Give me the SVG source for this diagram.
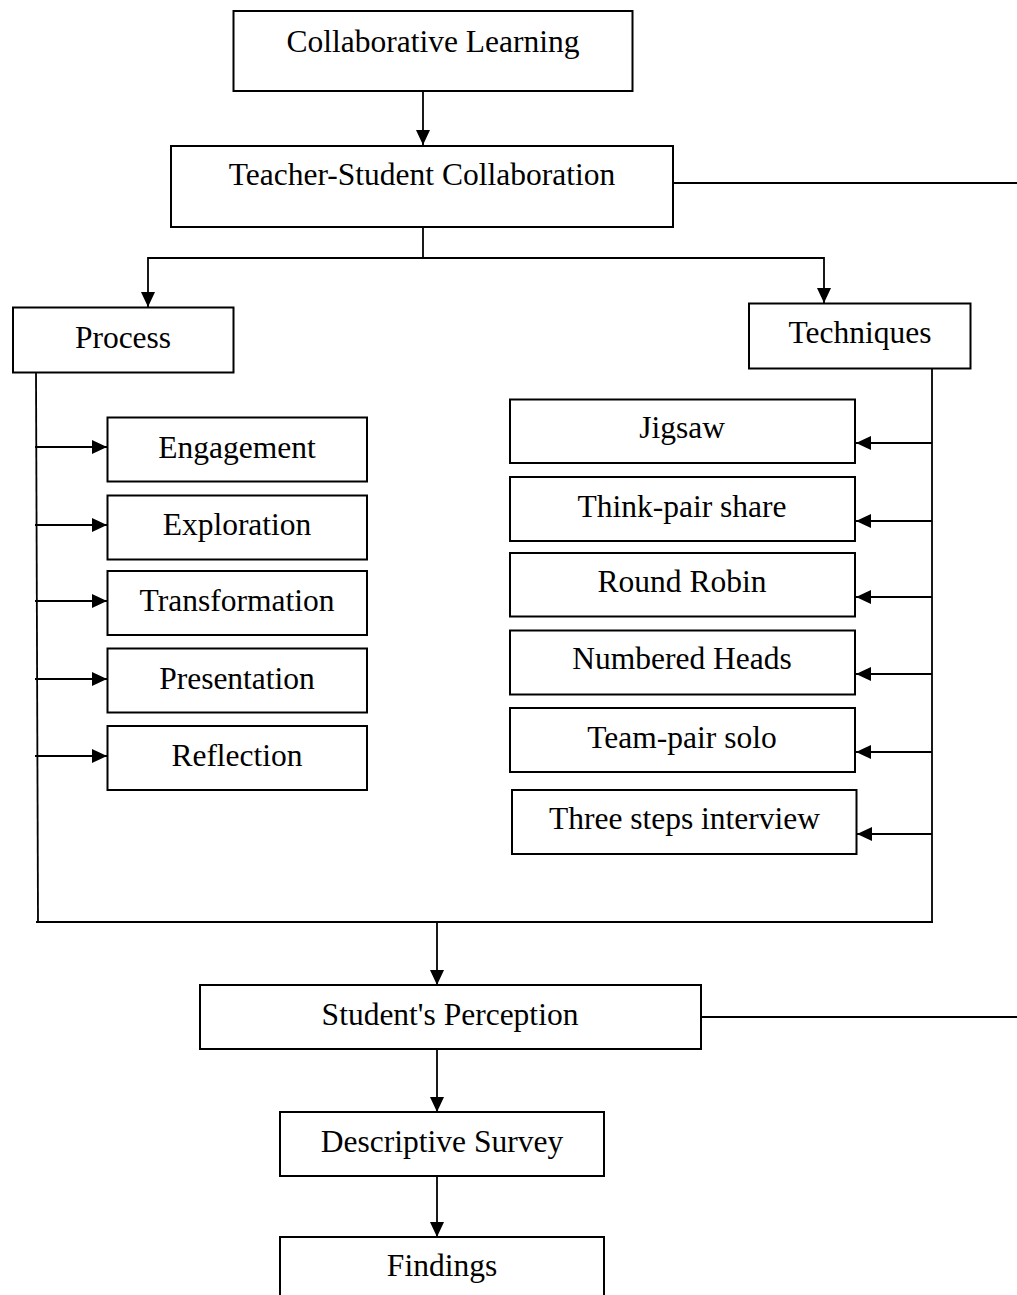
<svg xmlns="http://www.w3.org/2000/svg" width="1017" height="1295" viewBox="0 0 1017 1295">
<style>
.box{fill:#fff;stroke:#000;stroke-width:2}
.ln{fill:none;stroke:#000;stroke-width:1.8}
.t{font-family:"Liberation Serif","Times New Roman",serif;font-size:31.5px;fill:#000;text-anchor:middle}
</style>
<defs>
<marker id="ah" markerUnits="userSpaceOnUse" markerWidth="15" markerHeight="14" refX="15" refY="7" orient="auto">
<path d="M0,0 L15,7 L0,14 z" fill="#000"/>
</marker>
</defs>
<rect width="1017" height="1295" fill="#fff"/>
<g id="connectors">
<line class="ln" x1="423" y1="91" x2="423" y2="145" marker-end="url(#ah)"/>
<line class="ln" x1="673" y1="183" x2="1017" y2="183"/>
<polyline class="ln" points="423,227 423,258"/>
<line class="ln" x1="148" y1="258" x2="824" y2="258"/>
<line class="ln" x1="148" y1="257" x2="148" y2="307" marker-end="url(#ah)"/>
<line class="ln" x1="824" y1="257" x2="824" y2="303" marker-end="url(#ah)"/>
<line class="ln" x1="36" y1="372" x2="38" y2="922"/>
<line class="ln" x1="36" y1="922" x2="933" y2="922"/>
<line class="ln" x1="932" y1="368" x2="932" y2="922"/>
<line class="ln" x1="35" y1="447" x2="107" y2="447" marker-end="url(#ah)"/>
<line class="ln" x1="35" y1="525" x2="107" y2="525" marker-end="url(#ah)"/>
<line class="ln" x1="35" y1="601" x2="107" y2="601" marker-end="url(#ah)"/>
<line class="ln" x1="35" y1="679" x2="107" y2="679" marker-end="url(#ah)"/>
<line class="ln" x1="35" y1="756" x2="107" y2="756" marker-end="url(#ah)"/>
<line class="ln" x1="932" y1="443" x2="856" y2="443" marker-end="url(#ah)"/>
<line class="ln" x1="932" y1="521" x2="856" y2="521" marker-end="url(#ah)"/>
<line class="ln" x1="932" y1="597" x2="856" y2="597" marker-end="url(#ah)"/>
<line class="ln" x1="932" y1="674" x2="856" y2="674" marker-end="url(#ah)"/>
<line class="ln" x1="932" y1="752" x2="856" y2="752" marker-end="url(#ah)"/>
<line class="ln" x1="932" y1="834" x2="857" y2="834" marker-end="url(#ah)"/>
<line class="ln" x1="437" y1="922" x2="437" y2="985" marker-end="url(#ah)"/>
<line class="ln" x1="696" y1="1017" x2="1017" y2="1017"/>
<line class="ln" x1="437" y1="1049" x2="437" y2="1112" marker-end="url(#ah)"/>
<line class="ln" x1="437" y1="1173" x2="437" y2="1237" marker-end="url(#ah)"/>
</g>
<g id="n-collab"><rect class="box" x="233.5" y="11" width="399" height="80"/><text class="t" x="433" y="52">Collaborative Learning</text></g>
<g id="n-teacher"><rect class="box" x="171" y="146" width="502" height="81"/><text class="t" x="422" y="185">Teacher-Student Collaboration</text></g>
<g id="n-process"><rect class="box" x="13" y="307.5" width="220.5" height="65"/><text class="t" x="123" y="347.5">Process</text></g>
<g id="n-techniques"><rect class="box" x="749" y="303.5" width="221.5" height="65"/><text class="t" x="860" y="342.5">Techniques</text></g>
<g id="n-engagement"><rect class="box" x="107.5" y="417.5" width="259.5" height="64"/><text class="t" x="237" y="458">Engagement</text></g>
<g id="n-exploration"><rect class="box" x="107.5" y="495.5" width="259.5" height="64"/><text class="t" x="237" y="535">Exploration</text></g>
<g id="n-transformation"><rect class="box" x="107.5" y="571" width="259.5" height="64"/><text class="t" x="237" y="611">Transformation</text></g>
<g id="n-presentation"><rect class="box" x="107.5" y="648.5" width="259.5" height="64"/><text class="t" x="237" y="688.5">Presentation</text></g>
<g id="n-reflection"><rect class="box" x="107.5" y="726" width="259.5" height="64"/><text class="t" x="237" y="765.5">Reflection</text></g>
<g id="n-jigsaw"><rect class="box" x="510" y="399.5" width="345" height="63.5"/><text class="t" x="682" y="438">Jigsaw</text></g>
<g id="n-think"><rect class="box" x="510" y="477" width="345" height="64"/><text class="t" x="682" y="517">Think-pair share</text></g>
<g id="n-round"><rect class="box" x="510" y="553" width="345" height="63.5"/><text class="t" x="682" y="592">Round Robin</text></g>
<g id="n-numbered"><rect class="box" x="510" y="630.5" width="345" height="64"/><text class="t" x="682" y="669">Numbered Heads</text></g>
<g id="n-team"><rect class="box" x="510" y="708" width="345" height="64"/><text class="t" x="682" y="748">Team-pair solo</text></g>
<g id="n-three"><rect class="box" x="512" y="790" width="344.5" height="64"/><text class="t" x="684.5" y="829">Three steps interview</text></g>
<g id="n-perception"><rect class="box" x="200" y="985" width="501" height="64"/><text class="t" x="450" y="1025">Student's Perception</text></g>
<g id="n-survey"><rect class="box" x="280" y="1112" width="324" height="64"/><text class="t" x="442" y="1152">Descriptive Survey</text></g>
<g id="n-findings"><rect class="box" x="280" y="1237" width="324" height="80"/><text class="t" x="442" y="1276">Findings</text></g>
</svg>
